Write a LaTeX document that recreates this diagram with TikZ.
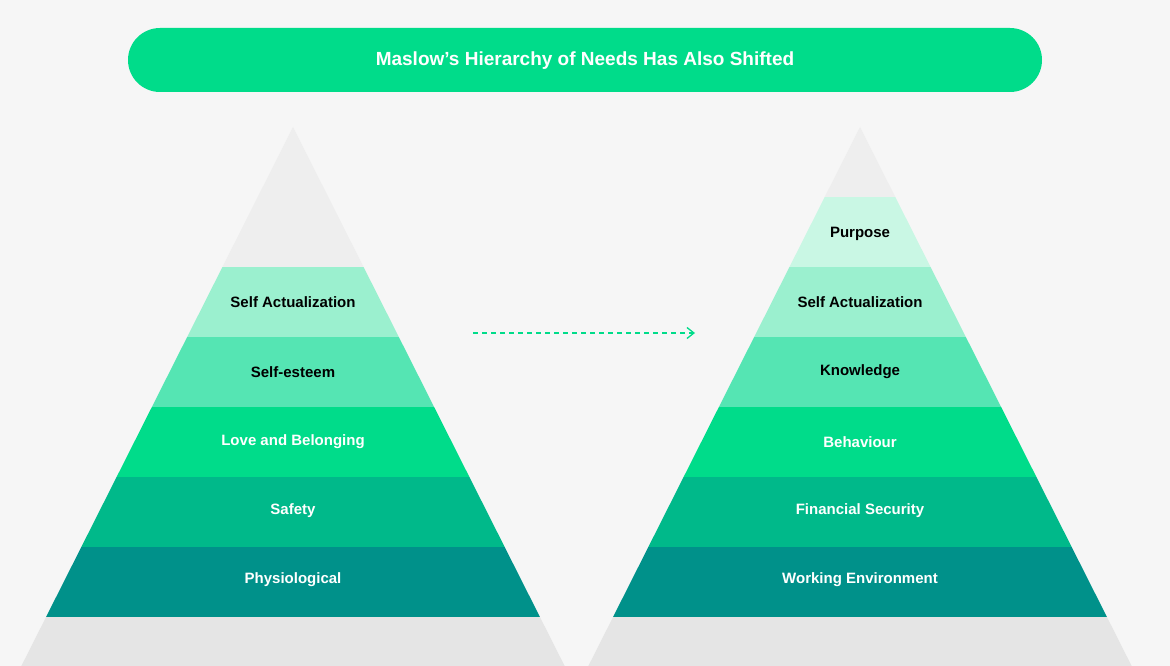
\documentclass[tikz,border=0pt]{standalone}
\usepackage{fontspec}
\setmainfont{Liberation Sans}
\usetikzlibrary{positioning,arrows.meta}
\definecolor{bgcol}{HTML}{F6F6F6}
\definecolor{topgrey}{HTML}{EEEEEE}
\definecolor{botgrey}{HTML}{E5E5E5}
\definecolor{pal1}{HTML}{C9F7E4}
\definecolor{pal2}{HTML}{9BF0CF}
\definecolor{pal3}{HTML}{55E5B3}
\definecolor{pal4}{HTML}{00DC8A}
\definecolor{pal5}{HTML}{00B98A}
\definecolor{pal6}{HTML}{00918A}
\tikzset{
  lbl/.style={font=\fontsize{15}{18}\selectfont\bfseries},
  dark/.style={lbl,text=black},
  light/.style={lbl,text=white},
}
\newcommand{\band}[4]{% apex x, top y, bottom y, colour
  \pgfmathsetmacro{\wt}{(#2-127)*0.504}
  \pgfmathsetmacro{\wb}{(#3-127)*0.504}
  \fill[#4] (#1-\wt,#2) -- (#1+\wt,#2) -- (#1+\wb,#3) -- (#1-\wb,#3) -- cycle;
}
\begin{document}
\begin{tikzpicture}[x=1pt,y=-1pt]
\useasboundingbox (0,0) rectangle (1170,666);
\fill[bgcol] (0,0) rectangle (1170,666);

% title
\fill[pal4, rounded corners=32pt] (128,28) rectangle (1042,92);
\node[light, font=\fontsize{19}{22}\selectfont\bfseries] (title) at (585,61) {Maslow’s Hierarchy of Needs Has Also Shifted};

% left pyramid
\fill[topgrey] (293,127) -- (293+70.6,267) -- (293-70.6,267) -- cycle;
\band{293}{267}{337}{pal2}
\band{293}{337}{407}{pal3}
\band{293}{407}{477}{pal4}
\band{293}{477}{547}{pal5}
\band{293}{547}{617}{pal6}
\band{293}{617}{666}{botgrey}

\node[dark]  (lsa)   at (293,302) {Self Actualization};
\node[dark]  (lse)   at (293,372) {Self-esteem};
\node[light] (llove) at (293,442) {Love and Belonging};
\node[light] (lsafe) at (293,511) {Safety};
\node[light] (lphys) at (293,580) {Physiological};

% right pyramid
\fill[topgrey] (860,127) -- (860+35.3,197) -- (860-35.3,197) -- cycle;
\band{860}{197}{267}{pal1}
\band{860}{267}{337}{pal2}
\band{860}{337}{407}{pal3}
\band{860}{407}{477}{pal4}
\band{860}{477}{547}{pal5}
\band{860}{547}{617}{pal6}
\band{860}{617}{666}{botgrey}

\node[dark]  (rpur)  at (860,234) {Purpose};
\node[dark]  (rsa)   at (860,302) {Self Actualization};
\node[dark]  (rknow) at (860,372) {Knowledge};
\node[light] (rbeh)  at (860,442) {Behaviour};
\node[light] (rfin)  at (860,511) {Financial Security};
\node[light] (rwork) at (860,580) {Working Environment};

% shift arrow
\coordinate (from) at (473,333);
\coordinate (to) at (695,333);
\draw[pal4, line width=1.3pt, dash pattern=on 5pt off 4pt, -{Straight Barb[length=7pt,width=11pt]}] (from) -- (to);
\end{tikzpicture}
\end{document}
